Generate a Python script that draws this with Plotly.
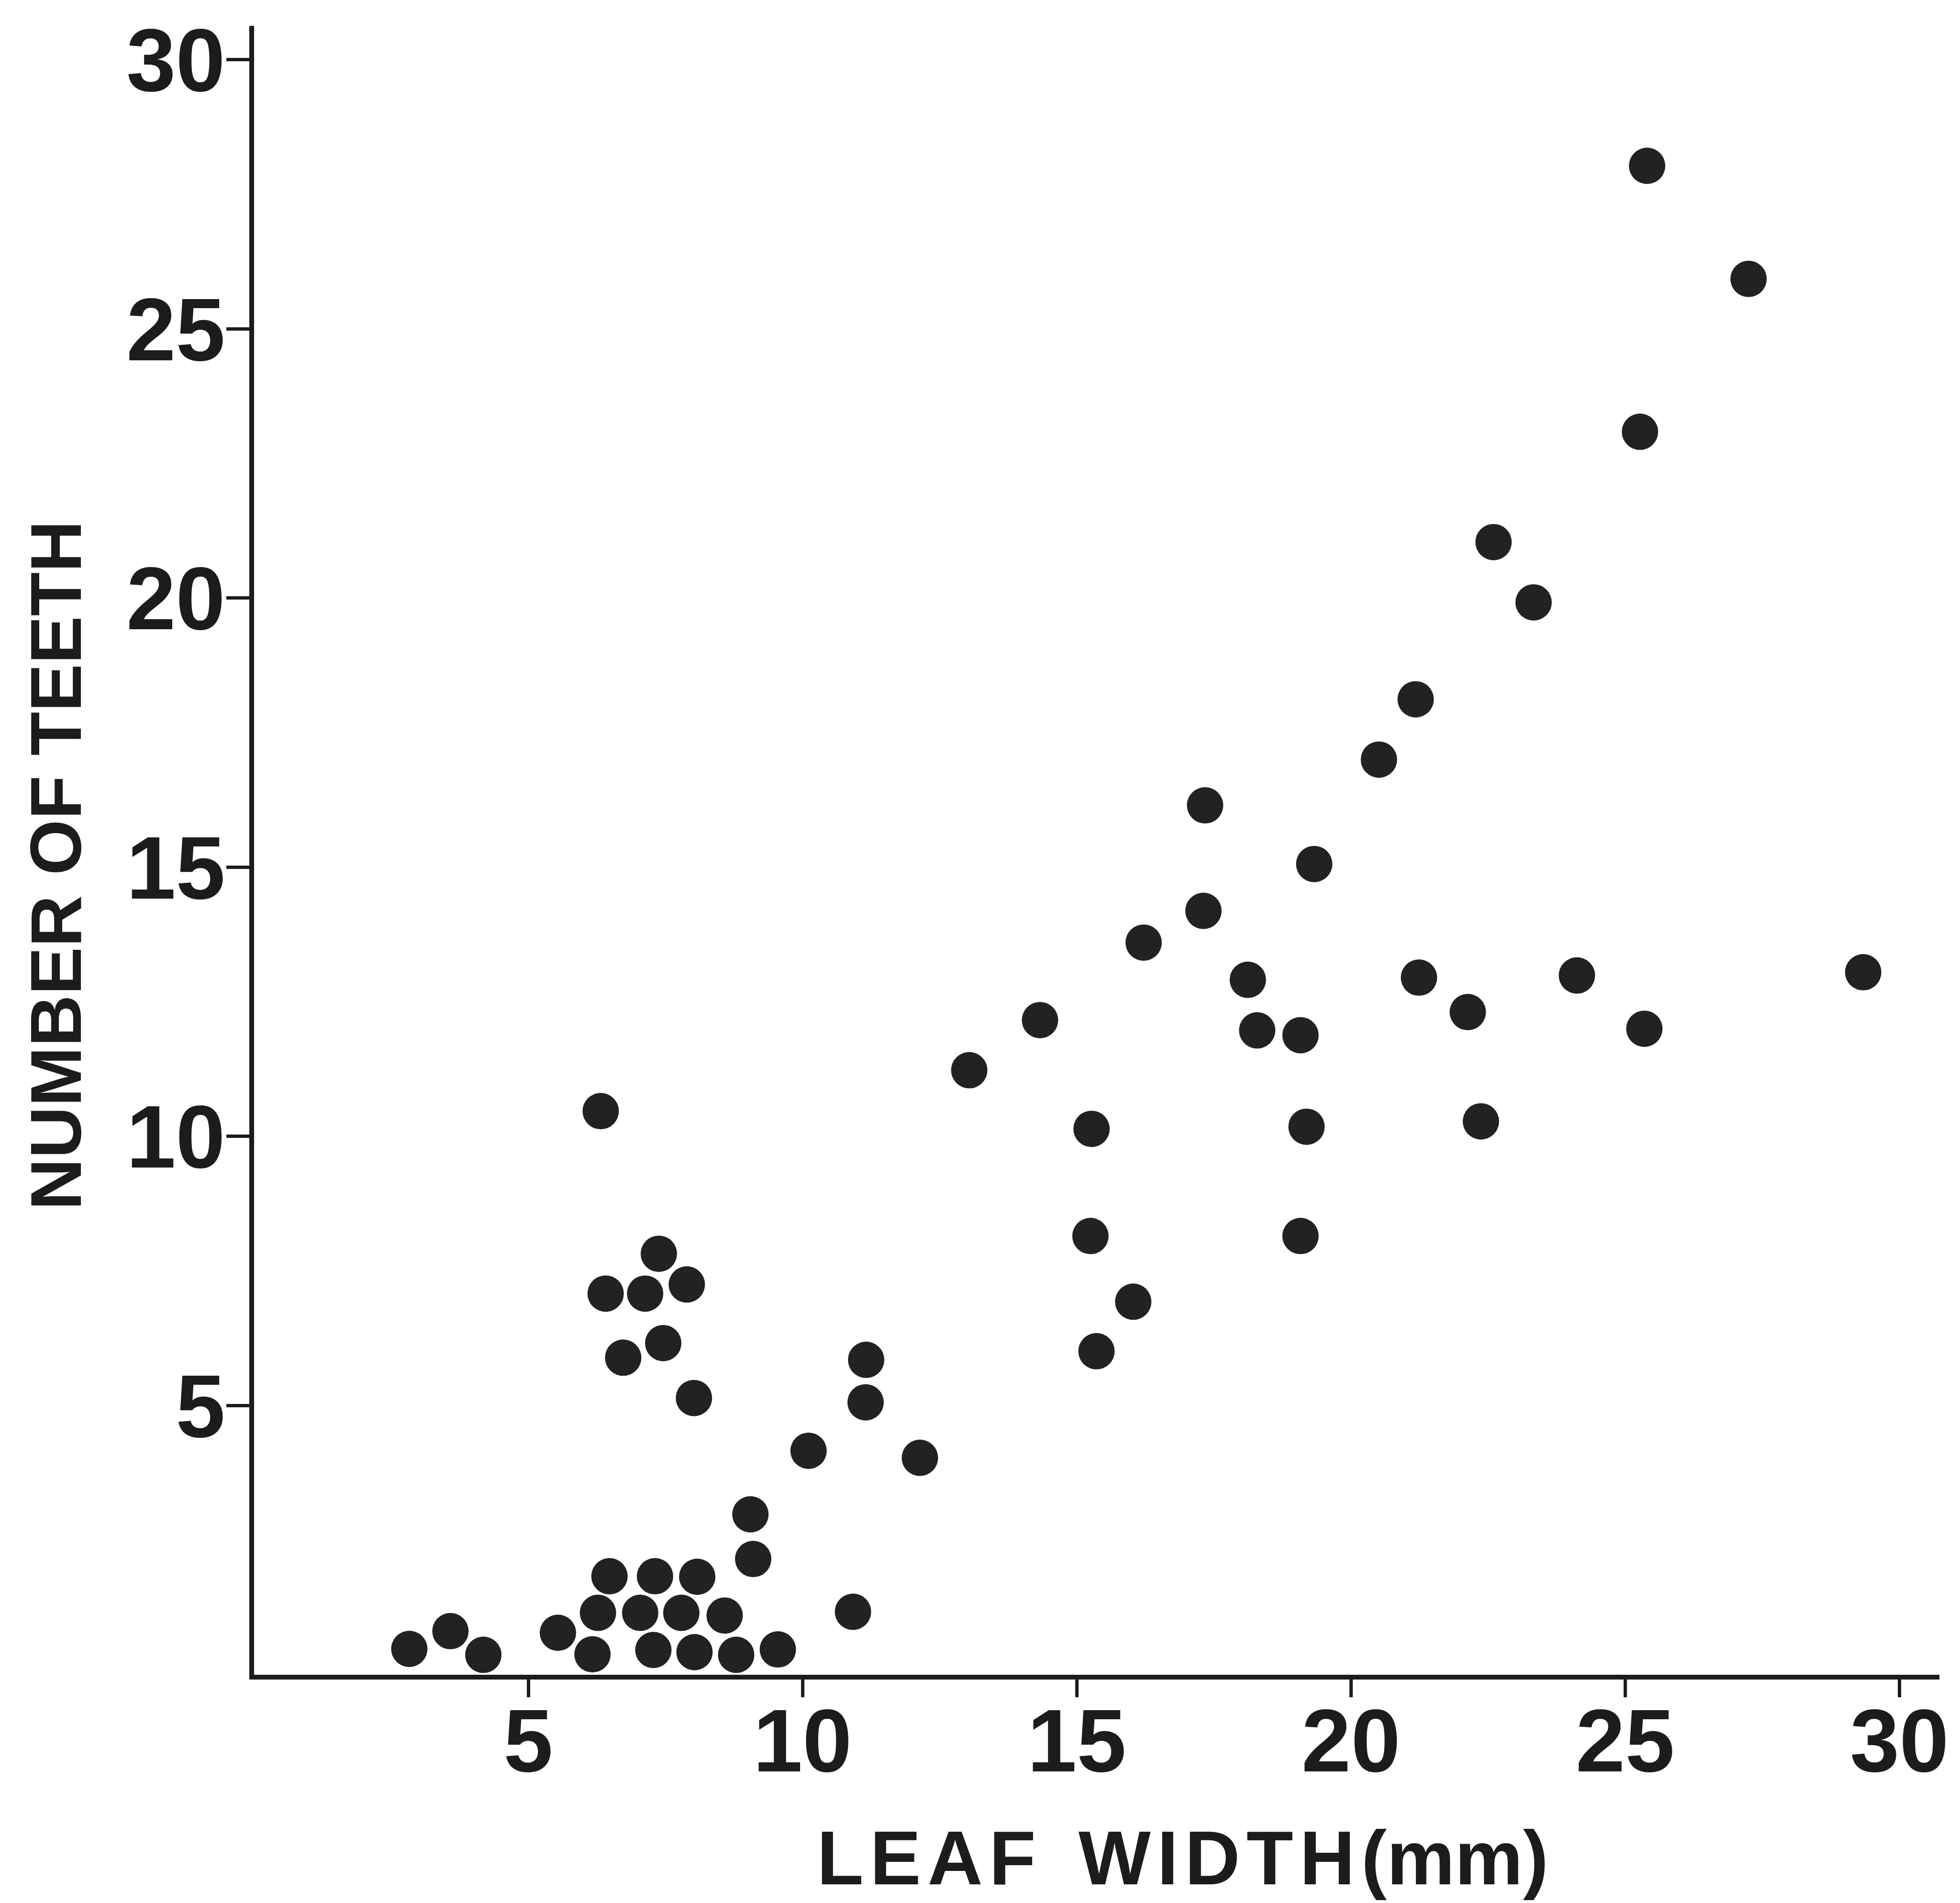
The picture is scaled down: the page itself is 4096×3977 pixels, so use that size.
import plotly.graph_objects as go

# Leaf width (mm) and number of teeth
leaf_width = [
    6.32, 7.38, 6.41, 7.13, 7.89, 6.73, 7.46, 8.02, 11.16, 11.15,
    10.11, 12.14, 9.05, 9.10, 6.48, 7.31, 8.08, 6.27, 7.04, 7.79,
    8.58, 10.92, 2.83, 3.58, 4.18, 5.54, 6.17, 7.28, 8.03, 8.79,
    9.55,
    21.18, 20.51, 17.34, 19.33, 17.31, 16.22, 18.12, 21.24, 22.13,
    14.33, 18.29, 19.08, 13.04, 15.27, 19.19, 22.37, 15.25, 19.08,
    16.03, 15.36,
    25.40, 27.25, 25.27, 22.60, 23.33,
    24.12, 25.35, 29.34,
]
teeth = [
    10.47, 7.82, 7.08, 7.08, 7.25, 5.89, 6.16, 5.14, 5.85, 5.06,
    4.16, 4.03, 2.98, 2.15, 1.83, 1.83, 1.82, 1.15, 1.15, 1.15,
    1.10, 1.17, 0.48, 0.81, 0.37, 0.78, 0.38, 0.46, 0.42, 0.37,
    0.47,
    18.12, 17.00, 16.15, 15.06, 14.19, 13.60, 12.91, 12.95, 12.31,
    12.16, 11.97, 11.88, 11.23, 10.14, 10.18, 10.28, 8.15, 8.15,
    6.93, 6.01,
    28.03, 25.93, 23.09, 21.04, 19.92,
    12.99, 12.00, 13.05,
]

tick_values = [5, 10, 15, 20, 25, 30]
tick_labels = ["5", "10", "15", "20", "25", "30"]
x_title = "L\u200aE\u200aA\u200aF  W\u200aI\u200aD\u200aT\u200aH\u200a(mm)"
y_title = "NUMBER OF TEETH"

INK = "#1c1c1c"
FONT = "Liberation Sans, Arial, sans-serif"

fig = go.Figure()
fig.add_trace(go.Scatter(
    x=leaf_width, y=teeth, mode="markers",
    marker=dict(size=76, color="#222222", line=dict(width=0)),
    hoverinfo="skip", showlegend=False, cliponaxis=False,
))

fig.update_layout(
    width=4096, height=3977,
    margin=dict(l=531, r=43, t=54, b=477),
    paper_bgcolor="white", plot_bgcolor="white",
    showlegend=False,
    xaxis=dict(
        range=[0, 30.73], showgrid=False, zeroline=False,
        showline=True, linewidth=10, linecolor=INK,
        ticks="outside", ticklen=37, tickwidth=7, tickcolor=INK,
        tickvals=tick_values, ticktext=tick_labels,
        tickfont=dict(family=FONT, size=186, color=INK, weight="bold"),
        ticklabelstandoff=-68,
    ),
    yaxis=dict(
        range=[0, 30.63], showgrid=False, zeroline=False,
        showline=True, linewidth=10, linecolor=INK,
        ticks="outside", ticklen=48, tickwidth=7, tickcolor=INK,
        tickvals=tick_values, ticktext=tick_labels,
        tickfont=dict(family=FONT, size=186, color=INK, weight="bold"),
        ticklabelstandoff=-35,
    ),
    annotations=[
        dict(text=x_title, xref="paper", yref="paper", x=0.5510, y=-0.1111,
             xanchor="center", yanchor="middle", showarrow=False,
             font=dict(family=FONT, size=160, color=INK, weight="bold")),
        dict(text=y_title, xref="paper", yref="paper", x=-0.1175, y=0.491,
             xanchor="center", yanchor="middle", showarrow=False, textangle=-90,
             font=dict(family=FONT, size=150, color=INK, weight="bold")),
    ],
)

fig.write_html("out.html")
